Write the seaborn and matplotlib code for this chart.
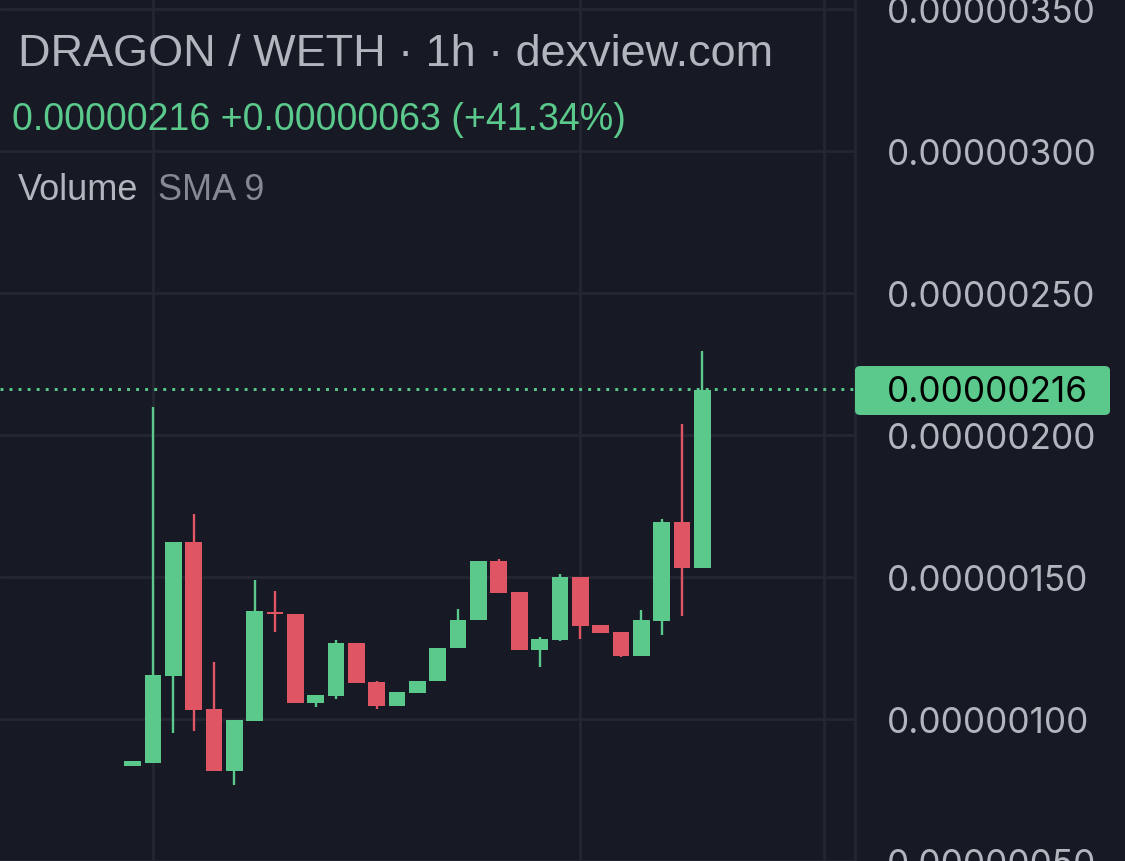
import matplotlib.pyplot as plt
import matplotlib.patches as mpatches
import seaborn as sns
import numpy as np

# 1시간봉 OHLC (단위: 1e-8 WETH)
opens  = [83.6, 84.4, 115.2, 162.2, 103.5, 81.7, 99.4, 137.6, 136.8, 105.5,
          108.2, 126.9, 112.9, 104.7, 109.0, 113.2, 124.9, 134.7, 155.5, 144.6,
          124.2, 127.8, 150.0, 133.2, 130.6, 122.2, 134.5, 169.5, 153.0]
highs  = [85.1, 209.8, 162.2, 172.0, 119.9, 99.8, 148.8, 145.0, 136.8, 108.5,
          127.8, 126.9, 113.5, 109.4, 113.5, 124.9, 138.6, 155.5, 156.3, 144.6,
          128.9, 151.0, 150.0, 133.2, 130.6, 138.3, 170.5, 203.7, 229.7]
lows   = [83.6, 84.4, 95.0, 95.9, 81.7, 76.7, 99.4, 130.7, 105.5, 104.1,
          107.0, 112.5, 103.5, 104.7, 109.0, 113.2, 124.9, 134.7, 144.5, 124.2,
          118.4, 127.5, 128.1, 130.4, 121.9, 122.2, 129.6, 136.2, 153.0]
closes = [85.1, 115.6, 162.2, 103.3, 81.7, 99.8, 138.0, 137.0, 105.5, 108.5,
          126.9, 112.5, 104.7, 109.4, 113.5, 124.9, 134.8, 155.5, 144.5, 124.2,
          128.3, 150.0, 132.7, 130.4, 122.2, 134.8, 169.5, 153.0, 216.0]

price_ticks = [50, 100, 150, 200, 250, 300, 350]
last_price = 216.3

BG = '#171a25'
GRID = '#242732'
GREEN = '#5ac98b'
RED = '#e05563'
TXT = '#b2b5be'

sns.set_theme(style='dark', rc={'axes.facecolor': BG, 'figure.facecolor': BG})
plt.rcParams['font.family'] = ['Liberation Sans', 'DejaVu Sans']

fig = plt.figure(figsize=(11.25, 8.62), dpi=100)
ax = fig.add_axes([0, 0, 855 / 1125, 1])

x = np.arange(len(opens))
o = np.array(opens)
c = np.array(closes)
up = c >= o
colors = [GREEN if u else RED for u in up]

# 캔들 심지 + 몸통
ax.vlines(x, lows, highs, color=colors, linewidth=1.7, zorder=3)
body = np.maximum(np.abs(c - o), 0.6)
ax.bar(x, body, bottom=np.minimum(o, c), width=0.82, color=colors,
       linewidth=0, zorder=4)

# 현재가 점선
ax.axhline(last_price, color=GREEN, linewidth=2.1,
           linestyle=(0, (1.0, 2.1)), zorder=2)

ax.set_xlim(-6.51, 35.5)
ax.set_ylim(51.4, 353.5)
ax.set_xticks([1, 22, 34])
ax.set_xticklabels([])
ax.set_yticks(price_ticks)
ax.set_yticklabels([f"{v * 1e-8:.8f}" for v in price_ticks])
ax.yaxis.tick_right()
ax.tick_params(axis='y', length=0, pad=23, labelsize=25.3, labelcolor=TXT)
ax.tick_params(axis='x', length=0)
for lbl in ax.get_yticklabels():
    lbl.set_fontfamily(['Inter', 'DejaVu Sans'])
ax.grid(True, color=GRID, linewidth=2.0)
ax.set_axisbelow(True)
for side in ['top', 'left', 'bottom']:
    ax.spines[side].set_visible(False)
ax.spines['right'].set_color(GRID)
ax.spines['right'].set_linewidth(2)

# 현재가 라벨 박스
box = mpatches.FancyBboxPatch((855 / 1125, 1 - 416 / 862), 255 / 1125, 49 / 862,
                              boxstyle='round,pad=0,rounding_size=0.005',
                              transform=fig.transFigure, facecolor=GREEN,
                              edgecolor='none', zorder=5)
fig.add_artist(box)
fig.text(887 / 1125, 1 - 392 / 862, f"{216 * 1e-8:.8f}", color='black',
         fontsize=25.3, va='center', ha='left', family=['Inter', 'DejaVu Sans'],
         zorder=6)

# 범례 텍스트
fig.text(18 / 1125, 1 - 66 / 862, 'DRAGON / WETH · 1h · dexview.com',
         color=TXT, fontsize=32.4, va='baseline')
fig.text(12 / 1125, 1 - 130 / 862, '0.00000216 +0.00000063 (+41.34%)',
         color=GREEN, fontsize=27, va='baseline')
fig.text(18 / 1125, 1 - 200 / 862, 'Volume', color=TXT, fontsize=26,
         va='baseline')
fig.text(158 / 1125, 1 - 200 / 862, 'SMA 9', color='#868993', fontsize=26,
         va='baseline')

fig.savefig('out.png', dpi=100, facecolor=BG)
